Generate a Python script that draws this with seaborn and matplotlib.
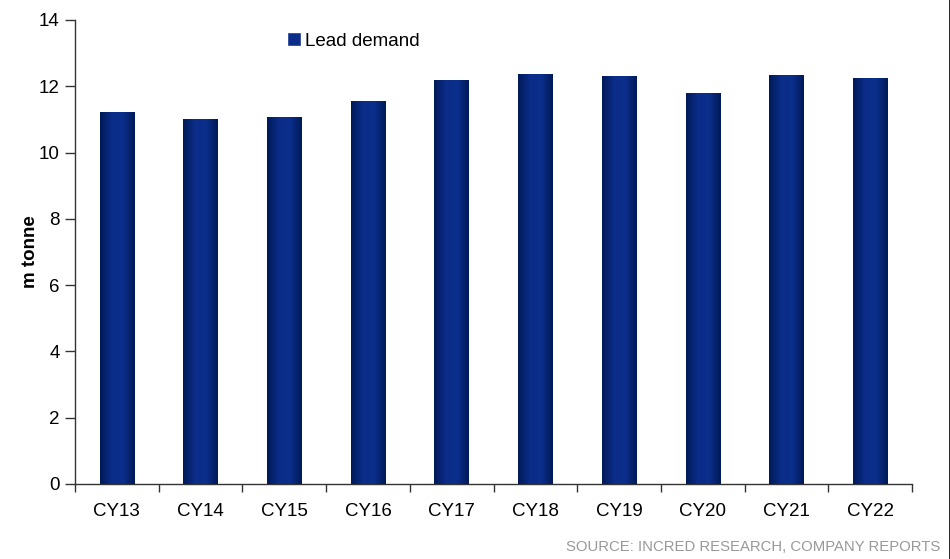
import numpy as np
import pandas as pd
import matplotlib
matplotlib.use("Agg")
import matplotlib.pyplot as plt
from matplotlib.colors import LinearSegmentedColormap
from matplotlib.patches import Patch
from matplotlib.lines import Line2D
import seaborn as sns

years = ["CY13", "CY14", "CY15", "CY16", "CY17", "CY18", "CY19", "CY20", "CY21", "CY22"]
lead_demand = [11.22, 11.01, 11.07, 11.55, 12.19, 12.37, 12.31, 11.79, 12.34, 12.25]

df = pd.DataFrame({"year": years, "demand": lead_demand})

sns.set_style("white")
plt.rcParams["font.family"] = ["Liberation Sans", "DejaVu Sans"]
plt.rcParams["text.color"] = "black"
plt.rcParams["xtick.color"] = "#333333"
plt.rcParams["ytick.color"] = "#333333"
plt.rcParams["xtick.labelcolor"] = "black"
plt.rcParams["ytick.labelcolor"] = "black"
plt.rcParams["axes.labelcolor"] = "black"

fig = plt.figure(figsize=(9.5, 5.59), dpi=100)
ax = fig.add_axes([75 / 950, 1 - 484 / 559, 837 / 950, 464 / 559])

sns.barplot(data=df, x="year", y="demand", color="#0c2d8a", width=0.41,
            saturation=1, ax=ax, zorder=2)

# horizontal shading on each bar (dark edges, brighter middle)
shade = LinearSegmentedColormap.from_list(
    "bar", ["#001a58", "#0b2c88", "#0c2e8c", "#001a58"])
grad = np.linspace(0, 1, 64).reshape(1, -1)
for p in ax.patches:
    x0, y0 = p.get_x(), p.get_y()
    w, h = p.get_width(), p.get_height()
    im = ax.imshow(grad, cmap=shade, extent=[x0, x0 + w, y0, y0 + h],
                   aspect="auto", zorder=3, interpolation="bicubic")
    im.set_clip_path(p)

ax.set_xlim(-0.5, len(years) - 0.5)
ax.set_ylim(0, 14)
ax.set_yticks(range(0, 15, 2))
ax.set_xticks(np.arange(len(years) + 1) - 0.5, minor=True)
ax.tick_params(axis="x", which="major", length=0, labelsize=13.5, pad=14)
ax.tick_params(axis="x", which="minor", length=6, width=1, direction="out",
               bottom=True)
ax.tick_params(axis="y", length=7, width=1, direction="out", left=True,
               labelsize=13.5, pad=4)

for s in ["top", "right"]:
    ax.spines[s].set_visible(False)
for s in ["left", "bottom"]:
    ax.spines[s].set_color("#333333")
    ax.spines[s].set_linewidth(1)

ax.set_xlabel("")
ax.set_ylabel("m tonne", fontsize=13.5, fontweight="bold", labelpad=0)

ax.legend(handles=[Patch(facecolor="#0c2d8a", label="Lead demand")],
          loc="center left", bbox_to_anchor=(0.233, 0.955), frameon=False,
          fontsize=13.5, handlelength=0.75, handleheight=0.75, handletextpad=0.2)

fig.text(0.99, 0.022, "SOURCE: INCRED RESEARCH, COMPANY REPORTS",
         ha="right", va="center", fontsize=10.7, color="#999999")

# thin frame line on the right edge, as in the source image
fig.add_artist(Line2D([0.9995, 0.9995], [0, 1], transform=fig.transFigure,
                      color="black", lw=1.2))

fig.savefig("out.png", dpi=100)
